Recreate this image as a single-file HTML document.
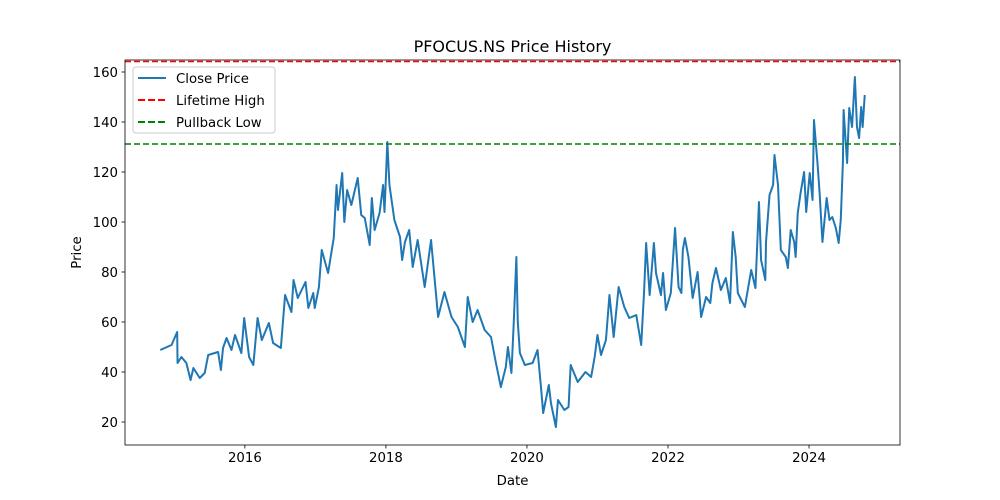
<!DOCTYPE html>
<html><head><meta charset="utf-8"><style>
body{margin:0;background:#fff}
svg{display:block;font-family:"DejaVu Sans","Liberation Sans",sans-serif}
</style></head><body>
<svg id="chart" width="1000" height="500">
<rect width="1000" height="500" fill="#fff"/>
<text x="512.5" y="52" text-anchor="middle" font-size="16">PFOCUS.NS Price History</text>
<g id="plot"></g>
<g id="axes"></g>
<text x="512.5" y="485" text-anchor="middle" font-size="13.3">Date</text>
<text transform="translate(81,252.5) rotate(-90)" text-anchor="middle" font-size="13.3">Price</text>
<g>
<rect x="133" y="67" width="142" height="66" rx="3" fill="#fff" fill-opacity="0.8" stroke="#ccc"/>
<g><line x1="138" y1="78" x2="166" y2="78" stroke="#1f77b4" stroke-width="2"/><text x="176" y="83" font-size="13.3">Close Price</text></g>
<g><line x1="138" y1="100" x2="166" y2="100" stroke="red" stroke-width="2" stroke-dasharray="7,3"/><text x="176" y="105" font-size="13.3">Lifetime High</text></g>
<g><line x1="138" y1="122" x2="166" y2="122" stroke="green" stroke-width="2" stroke-dasharray="7,3"/><text x="176" y="127" font-size="13.3">Pullback Low</text></g>
</g>
</svg>
<script>
const dates=[2014.80,2014.96,2015.04,2015.045,2015.10,2015.17,2015.23,2015.27,2015.36,2015.43,2015.48,2015.62,2015.66,2015.69,2015.74,2015.81,2015.86,2015.95,2015.99,2016.06,2016.12,2016.18,2016.24,2016.34,2016.40,2016.51,2016.57,2016.66,2016.69,2016.75,2016.86,2016.90,2016.97,2016.99,2017.05,2017.09,2017.18,2017.26,2017.30,2017.32,2017.38,2017.41,2017.45,2017.51,2017.60,2017.65,2017.70,2017.77,2017.80,2017.84,2017.91,2017.96,2017.98,2018.02,2018.05,2018.08,2018.12,2018.20,2018.23,2018.27,2018.33,2018.38,2018.45,2018.55,2018.64,2018.74,2018.83,2018.93,2019.02,2019.12,2019.16,2019.23,2019.30,2019.40,2019.49,2019.56,2019.63,2019.70,2019.73,2019.78,2019.81,2019.85,2019.87,2019.90,2019.97,2020.08,2020.15,2020.20,2020.23,2020.31,2020.34,2020.41,2020.44,2020.53,2020.59,2020.62,2020.72,2020.83,2020.91,2020.96,2021.00,2021.05,2021.12,2021.17,2021.23,2021.30,2021.38,2021.45,2021.55,2021.62,2021.66,2021.69,2021.74,2021.80,2021.83,2021.90,2021.93,2021.97,2022.04,2022.10,2022.15,2022.19,2022.21,2022.24,2022.29,2022.35,2022.42,2022.47,2022.54,2022.60,2022.63,2022.68,2022.75,2022.82,2022.88,2022.92,2022.96,2022.99,2023.09,2023.18,2023.24,2023.29,2023.32,2023.38,2023.39,2023.44,2023.49,2023.51,2023.56,2023.60,2023.67,2023.70,2023.74,2023.79,2023.81,2023.84,2023.88,2023.93,2023.96,2024.01,2024.05,2024.07,2024.12,2024.15,2024.19,2024.25,2024.29,2024.33,2024.38,2024.42,2024.45,2024.48,2024.49,2024.54,2024.57,2024.61,2024.65,2024.68,2024.71,2024.74,2024.76,2024.79];
const closes=[48.8,50.8,56,43.6,46,43.6,36.8,41.6,37.6,39.6,46.8,48,40.8,49.6,53.6,48.8,54.8,47.6,61.6,46,42.8,61.6,52.8,59.6,51.6,49.6,70.8,64,76.8,69.6,76,65.6,71.6,65.6,74,88.8,79.6,93.6,114.8,104.8,119.6,100,112.8,106.8,117.6,102.8,101.6,90.8,109.6,96.8,103.6,114.8,104,132,114.8,108.8,100.8,94,84.8,92,96.8,82,92.8,74,92.8,62,72,62,58,50,70,60,64.8,56.8,54,43.6,34,42,50,39.6,58,86,60,47.6,42.8,43.6,48.8,33.6,23.6,34.8,27.6,18,28.8,24.8,26,42.8,36,40,38,46,54.8,46.8,52.8,70.8,54,74,66,61.6,62.8,50.8,71.6,91.6,70.8,91.6,79.6,70.8,79.6,64.8,71.6,97.6,74,71.6,88.8,93.6,86,69.6,80,62,70,67.6,75.6,81.6,72.8,77.6,67.6,96,86,71.6,66,80.8,73.6,108,84.8,76.8,92,110.8,114.8,126.8,114.8,88.8,86,81.6,96.8,92,86,103.6,111.6,120,104,119.6,108.8,140.8,123.6,111.6,92,109.6,100.8,102,97.6,91.6,100.8,123.6,144.8,123.6,145.6,138,158,138,133.6,146,138,150.8];
const xTicks=[2016,2018,2020,2022,2024];
const yTicks=[20,40,60,80,100,120,140,160];
const lifetimeHigh=[164.2];
const pullbackLow=[131.2];

const L=125,R=900,T=60,B=445;
const xMin=2014.30,xMax=2025.29,yMin=10.8,yMax=164.8;
const xs=v=>L+(v-xMin)/(xMax-xMin)*(R-L);
const ys=v=>B-(v-yMin)/(yMax-yMin)*(B-T);
const NS='http://www.w3.org/2000/svg';
function mk(tag,attrs,parent){const e=document.createElementNS(NS,tag);for(const k in attrs)e.setAttribute(k,attrs[k]);parent.appendChild(e);return e;}
const plot=document.getElementById('plot'),axes=document.getElementById('axes');
let d='';dates.forEach((t,i)=>{d+=(i?'L':'M')+xs(t).toFixed(2)+','+ys(closes[i]).toFixed(2);});
const line=mk('path',{d:d,fill:'none',stroke:'#1f77b4','stroke-width':2,'stroke-linejoin':'round'},plot);


const hi=mk('line',{x1:L,x2:R,y1:ys(lifetimeHigh[0]),y2:ys(lifetimeHigh[0]),stroke:'red','stroke-width':1.5,'stroke-dasharray':'6,3'},plot);


const lo=mk('line',{x1:L,x2:R,y1:ys(pullbackLow[0]),y2:ys(pullbackLow[0]),stroke:'green','stroke-width':1.5,'stroke-dasharray':'6,3'},plot);


const frame=mk('rect',{x:L,y:T,width:R-L,height:B-T,fill:'none',stroke:'#000','stroke-width':0.8},axes);


xTicks.forEach(t=>{const x=xs(t);
 mk('line',{x1:x,x2:x,y1:B,y2:B+3.5,stroke:'#000','stroke-width':0.8},axes);
 const tx=mk('text',{x:x,y:B+17,'text-anchor':'middle','font-size':13.3},axes);tx.textContent=t;
 
 });
yTicks.forEach(t=>{const y=ys(t);
 mk('line',{x1:L-3.5,x2:L,y1:y,y2:y,stroke:'#000','stroke-width':0.8},axes);
 const tx=mk('text',{x:L-7,y:y+4.8,'text-anchor':'end','font-size':13.3},axes);tx.textContent=t;
 
 });
</script>
</body></html>
